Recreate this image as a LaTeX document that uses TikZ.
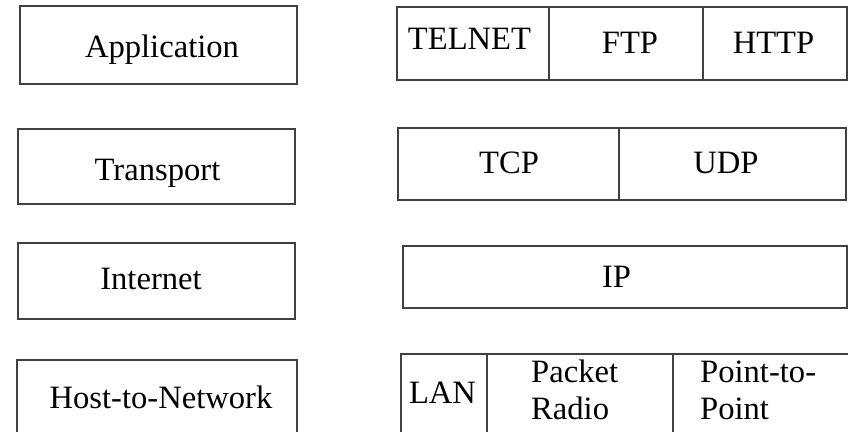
\documentclass[tikz,border=0pt]{standalone}
\usepackage{fontspec}
\setmainfont{Liberation Serif}
\definecolor{linec}{HTML}{404040}
\begin{document}
\begin{tikzpicture}[x=1pt,y=-1pt,
  cell/.style={draw=linec, line width=1.8pt, inner sep=0pt, outer sep=0pt, anchor=north west},
  lbl/.style={anchor=base, inner sep=0pt, font=\fontsize{32.6}{37}\selectfont},
  lbll/.style={anchor=base west, inner sep=0pt, font=\fontsize{32.6}{37}\selectfont, align=left}]
\useasboundingbox (0,0) rectangle (848,431);
\fill[white] (0,0) rectangle (848,431);
\clip (0,0) rectangle (848,431);
% left column
\node[cell, minimum width=277pt, minimum height=78pt] (app) at (20,6) {};
\node[cell, minimum width=277pt, minimum height=75pt] (trn) at (18,129) {};
\node[cell, minimum width=277pt, minimum height=76pt] (inet) at (18,243) {};
\node[cell, minimum width=280pt, minimum height=80pt] (host) at (17,360) {};
\node[lbl] (tapp) at (162,57) {Application};
\node[lbl] (ttrn) at (157.5,180) {Transport};
\node[lbl] (tinet) at (151,289) {Internet};
\node[lbl] (thost) at (161,408) {Host-to-Network};
% application row
\node[cell, minimum width=152pt, minimum height=73pt] (telnet) at (397,7) {};
\node[cell, minimum width=154pt, minimum height=73pt] (ftp) at (549,7) {};
\node[cell, minimum width=144pt, minimum height=73pt] (http) at (703,7) {};
\node[lbl] (ttelnet) at (469.5,49) {TELNET};
\node[lbl] (tftp) at (630,53) {FTP};
\node[lbl] (thttp) at (773.5,53) {HTTP};
% transport row
\node[cell, minimum width=221pt, minimum height=72pt] (tcp) at (398,128) {};
\node[cell, minimum width=227pt, minimum height=72pt] (udp) at (619,128) {};
\node[lbl] (ttcp) at (509,173) {TCP};
\node[lbl] (tudp) at (726,173) {UDP};
% internet row
\node[cell, minimum width=444pt, minimum height=62pt] (ip) at (403,246) {};
\node[lbl] (tip) at (616.5,287) {IP};
% host-to-network row
\node[cell, minimum width=86pt, minimum height=90pt] (lan) at (401,354) {};
\node[cell, minimum width=186pt, minimum height=90pt] (pr) at (487,354) {};
\node[cell, minimum width=180pt, minimum height=90pt] (ptp) at (673,354) {};
\node[lbl] (tlan) at (442.5,403) {LAN};
\node[lbll] (tpr) at (531,419) {Packet\\Radio};
\node[lbll] (tptp) at (700,419) {Point-to-\\Point};
\end{tikzpicture}
\end{document}
